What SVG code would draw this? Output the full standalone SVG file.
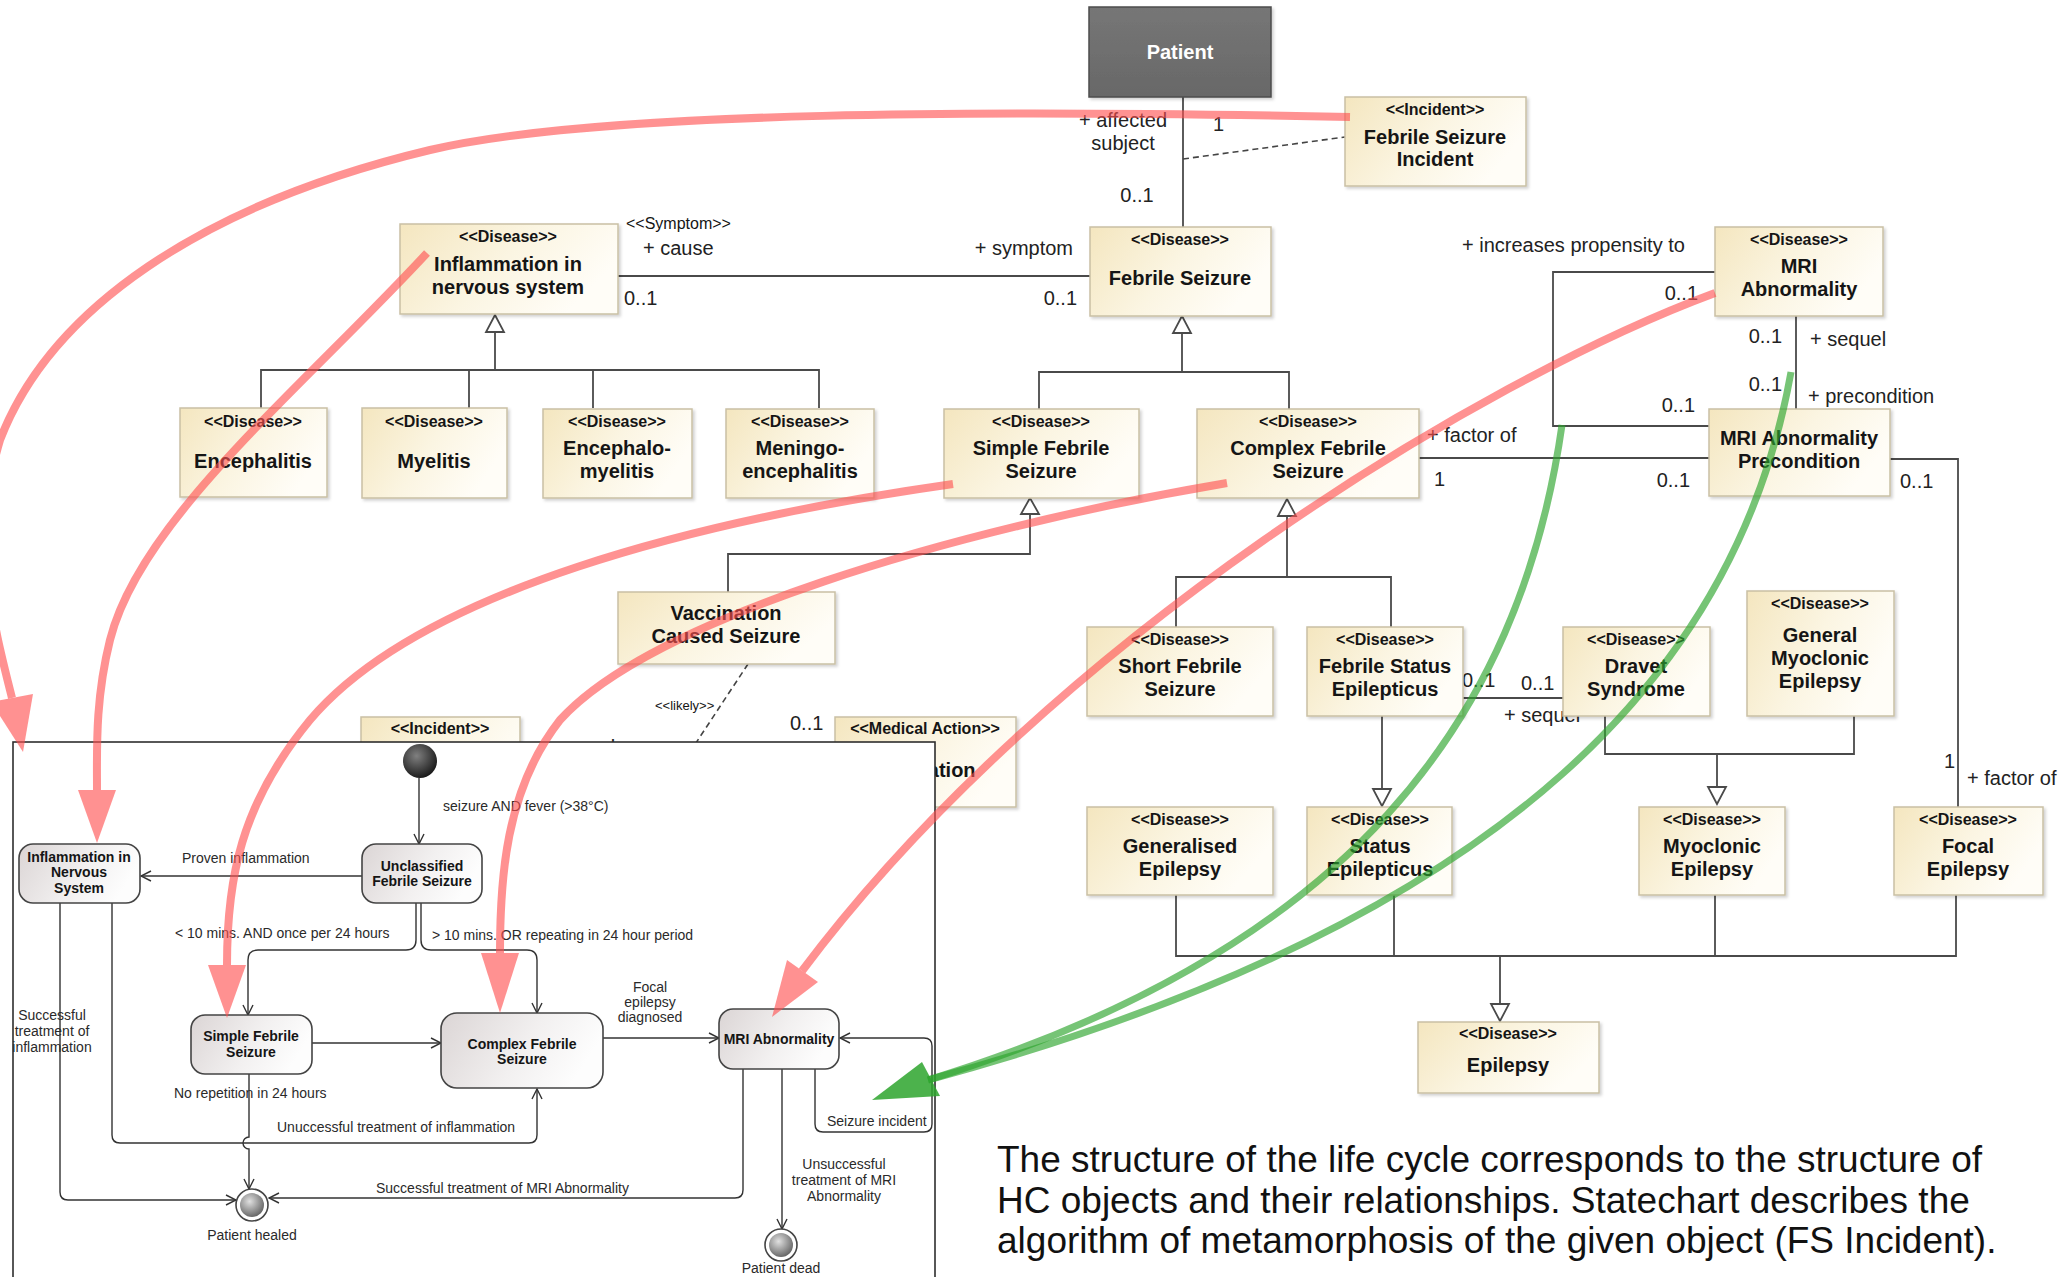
<svg xmlns="http://www.w3.org/2000/svg" width="2062" height="1277" viewBox="0 0 2062 1277">
<defs>
  <linearGradient id="beige" x1="0" y1="0" x2="1" y2="0.4">
    <stop offset="0" stop-color="#f4e6bf"/>
    <stop offset="0.55" stop-color="#fbf5e2"/>
    <stop offset="1" stop-color="#fffdf7"/>
  </linearGradient>
  <linearGradient id="stateFill" x1="0" y1="0" x2="1" y2="0.3">
    <stop offset="0" stop-color="#dbd5d5"/>
    <stop offset="0.6" stop-color="#f2f0f0"/>
    <stop offset="1" stop-color="#fdfdfd"/>
  </linearGradient>
  <linearGradient id="patientFill" x1="0" y1="0" x2="0" y2="1">
    <stop offset="0" stop-color="#767676"/>
    <stop offset="1" stop-color="#686868"/>
  </linearGradient>
  <radialGradient id="ball" cx="0.4" cy="0.35" r="0.7">
    <stop offset="0" stop-color="#808080"/>
    <stop offset="1" stop-color="#151515"/>
  </radialGradient>
  <radialGradient id="endBall" cx="0.4" cy="0.35" r="0.7">
    <stop offset="0" stop-color="#e0e0e0"/>
    <stop offset="1" stop-color="#606060"/>
  </radialGradient>
  <filter id="shadow" x="-5%" y="-5%" width="115%" height="120%">
    <feDropShadow dx="2" dy="2" stdDeviation="1.5" flood-color="#000" flood-opacity="0.18"/>
  </filter>
  <marker id="open" viewBox="0 0 12 12" refX="11" refY="6" markerWidth="12" markerHeight="12" markerUnits="userSpaceOnUse" orient="auto">
    <path d="M1,1 L11,6 L1,11" fill="none" stroke="#333" stroke-width="1.4"/>
  </marker>
  <style>
    text { font-family: "Liberation Sans", Arial, sans-serif; fill: #151515; }
    .box { fill: url(#beige); stroke: #c9c0a4; stroke-width: 1.5; filter: url(#shadow); }
    .st { font-size: 16px; font-weight: bold; text-anchor: middle; }
    .nm { font-size: 20px; font-weight: bold; text-anchor: middle; }
    .lb { font-size: 20px; fill: #222; }
    .ln { fill: none; stroke: #4a4a4a; stroke-width: 1.8; }
    .dash { fill: none; stroke: #444; stroke-width: 1.6; stroke-dasharray: 6 4; }
    .tri { fill: #fff; stroke: #4a4a4a; stroke-width: 1.8; }
    .state { fill: url(#stateFill); stroke: #444; stroke-width: 1.6; }
    .sn { font-size: 14px; font-weight: bold; text-anchor: middle; }
    .sl { font-size: 14px; fill: #2a2a2a; }
    .tr { fill: none; stroke: #333; stroke-width: 1.4; marker-end: url(#open); }
    .redline { fill: none; stroke: #ff4f4f; stroke-width: 8; }
    .redhead { fill: #ff4f4f; }
    .greenline { fill: none; stroke: #2da52d; stroke-width: 7; }
    .greenhead { fill: #2da52d; }
    .caption { font-size: 37px; fill: #111; }
  </style>
</defs>

<rect width="2062" height="1277" fill="#ffffff"/>

<!-- class diagram connectors -->
<g id="class-connectors">
  <!-- Patient / Febrile Seizure association with incident class -->
  <line class="ln" x1="1183" y1="97" x2="1183" y2="227"/>
  <line class="dash" x1="1183" y1="159" x2="1345" y2="137"/>
  <!-- cause / symptom -->
  <line class="ln" x1="618" y1="276" x2="1090" y2="276"/>
  <!-- inflammation hierarchy -->
  <polyline class="ln" points="495,332 495,370"/>
  <polyline class="ln" points="261,408 261,370 819,370 819,408"/>
  <line class="ln" x1="469" y1="370" x2="469" y2="408"/>
  <line class="ln" x1="593" y1="370" x2="593" y2="408"/>
  <polygon class="tri" points="495,315 486,332 504,332"/>
  <!-- febrile seizure hierarchy -->
  <line class="ln" x1="1182" y1="333" x2="1182" y2="372"/>
  <polyline class="ln" points="1039,409 1039,372 1289,372 1289,409"/>
  <polygon class="tri" points="1182,316 1173,333 1191,333"/>
  <!-- simple febrile -> vaccination -->
  <polyline class="ln" points="1030,514 1030,554 728,554 728,592"/>
  <polygon class="tri" points="1030,498 1021,514 1039,514"/>
  <!-- complex febrile hierarchy -->
  <line class="ln" x1="1287" y1="516" x2="1287" y2="577"/>
  <polyline class="ln" points="1176,627 1176,577 1391,577 1391,627"/>
  <polygon class="tri" points="1287,499 1278,516 1296,516"/>
  <!-- MRI abnormality links -->
  <polyline class="ln" points="1715,272 1553,272 1553,426 1709,426"/>
  <line class="ln" x1="1796" y1="316" x2="1796" y2="409"/>
  <line class="ln" x1="1419" y1="458" x2="1709" y2="458"/>
  <polyline class="ln" points="1890,459 1958,459 1958,807"/>
  <!-- status epilepticus sequel -->
  <line class="ln" x1="1463" y1="698" x2="1563" y2="698"/>
  <line class="ln" x1="1382" y1="716" x2="1382" y2="789"/>
  <polygon class="tri" points="1382,806 1373,789 1391,789"/>
  <!-- myoclonic -->
  <polyline class="ln" points="1605,716 1605,754 1854,754 1854,716"/>
  <line class="ln" x1="1717" y1="754" x2="1717" y2="787"/>
  <polygon class="tri" points="1717,804 1708,787 1726,787"/>
  <!-- epilepsy -->
  <polyline class="ln" points="1176,895 1176,956 1956,956 1956,895"/>
  <line class="ln" x1="1394" y1="895" x2="1394" y2="956"/>
  <line class="ln" x1="1715" y1="895" x2="1715" y2="956"/>
  <line class="ln" x1="1500" y1="956" x2="1500" y2="1004"/>
  <polygon class="tri" points="1500,1021 1491,1004 1509,1004"/>
  <!-- likely dependency -->
  <line class="dash" x1="748" y1="664" x2="690" y2="752"/>

  <!-- association end labels -->
  <text class="lb" x="1123" y="127" text-anchor="middle">+ affected</text>
  <text class="lb" x="1123" y="150" text-anchor="middle">subject</text>
  <text class="lb" x="1213" y="131">1</text>
  <text class="lb" x="1137" y="202" text-anchor="middle">0..1</text>
  <text x="626" y="229" style="font-size:16px">&lt;&lt;Symptom&gt;&gt;</text>
  <text class="lb" x="643" y="255">+ cause</text>
  <text class="lb" x="624" y="305">0..1</text>
  <text class="lb" x="1073" y="255" text-anchor="end">+ symptom</text>
  <text class="lb" x="1077" y="305" text-anchor="end">0..1</text>
  <text class="lb" x="1462" y="252">+ increases propensity to</text>
  <text class="lb" x="1698" y="300" text-anchor="end">0..1</text>
  <text class="lb" x="1782" y="343" text-anchor="end">0..1</text>
  <text class="lb" x="1810" y="346">+ sequel</text>
  <text class="lb" x="1782" y="391" text-anchor="end">0..1</text>
  <text class="lb" x="1808" y="403">+ precondition</text>
  <text class="lb" x="1695" y="412" text-anchor="end">0..1</text>
  <text class="lb" x="1427" y="442">+ factor of</text>
  <text class="lb" x="1434" y="486">1</text>
  <text class="lb" x="1690" y="487" text-anchor="end">0..1</text>
  <text class="lb" x="1900" y="488">0..1</text>
  <text class="lb" x="1462" y="687">0..1</text>
  <text class="lb" x="1521" y="690">0..1</text>
  <text class="lb" x="1504" y="722">+ sequel</text>
  <text class="lb" x="1944" y="768">1</text>
  <text class="lb" x="1967" y="785">+ factor of</text>
  <text x="655" y="710" style="font-size:13px">&lt;&lt;likely&gt;&gt;</text>
  <text class="lb" x="790" y="730">0..1</text>
  <text class="lb" x="539" y="754">+ sequel</text>
</g>

<!-- class nodes -->
<g id="patient">
  <rect x="1089" y="7" width="182" height="90" fill="url(#patientFill)" stroke="#4d4d4d" stroke-width="1.5" filter="url(#shadow)"/>
  <text x="1180" y="59" text-anchor="middle" style="font-size:20px;font-weight:bold;fill:#fff">Patient</text>
</g>
<g id="fs-incident">
  <rect class="box" x="1345" y="97" width="181" height="89"/>
  <text class="st" x="1435" y="115">&lt;&lt;Incident&gt;&gt;</text>
  <text class="nm" x="1435" y="144">Febrile Seizure</text>
  <text class="nm" x="1435" y="166">Incident</text>
</g>
<g id="febrile-seizure">
  <rect class="box" x="1090" y="227" width="181" height="89"/>
  <text class="st" x="1180" y="245">&lt;&lt;Disease&gt;&gt;</text>
  <text class="nm" x="1180" y="285">Febrile Seizure</text>
</g>
<g id="inflammation">
  <rect class="box" x="400" y="224" width="218" height="90"/>
  <text class="st" x="508" y="242">&lt;&lt;Disease&gt;&gt;</text>
  <text class="nm" x="508" y="271">Inflammation in</text>
  <text class="nm" x="508" y="294">nervous system</text>
</g>
<g id="mri-abnormality">
  <rect class="box" x="1715" y="227" width="168" height="89"/>
  <text class="st" x="1799" y="245">&lt;&lt;Disease&gt;&gt;</text>
  <text class="nm" x="1799" y="273">MRI</text>
  <text class="nm" x="1799" y="296">Abnormality</text>
</g>
<g id="encephalitis">
  <rect class="box" x="180" y="408" width="147" height="89"/>
  <text class="st" x="253" y="427">&lt;&lt;Disease&gt;&gt;</text>
  <text class="nm" x="253" y="468">Encephalitis</text>
</g>
<g id="myelitis">
  <rect class="box" x="362" y="408" width="145" height="90"/>
  <text class="st" x="434" y="427">&lt;&lt;Disease&gt;&gt;</text>
  <text class="nm" x="434" y="468">Myelitis</text>
</g>
<g id="encephalomyelitis">
  <rect class="box" x="543" y="409" width="149" height="89"/>
  <text class="st" x="617" y="427">&lt;&lt;Disease&gt;&gt;</text>
  <text class="nm" x="617" y="455">Encephalo-</text>
  <text class="nm" x="617" y="478">myelitis</text>
</g>
<g id="meningoencephalitis">
  <rect class="box" x="726" y="409" width="148" height="89"/>
  <text class="st" x="800" y="427">&lt;&lt;Disease&gt;&gt;</text>
  <text class="nm" x="800" y="455">Meningo-</text>
  <text class="nm" x="800" y="478">encephalitis</text>
</g>
<g id="simple-febrile">
  <rect class="box" x="944" y="409" width="195" height="89"/>
  <text class="st" x="1041" y="427">&lt;&lt;Disease&gt;&gt;</text>
  <text class="nm" x="1041" y="455">Simple Febrile</text>
  <text class="nm" x="1041" y="478">Seizure</text>
</g>
<g id="complex-febrile">
  <rect class="box" x="1197" y="409" width="222" height="89"/>
  <text class="st" x="1308" y="427">&lt;&lt;Disease&gt;&gt;</text>
  <text class="nm" x="1308" y="455">Complex Febrile</text>
  <text class="nm" x="1308" y="478">Seizure</text>
</g>
<g id="mri-precondition">
  <rect class="box" x="1709" y="409" width="181" height="87"/>
  <text class="nm" x="1799" y="445">MRI Abnormality</text>
  <text class="nm" x="1799" y="468">Precondition</text>
</g>
<g id="vaccination-seizure">
  <rect class="box" x="618" y="592" width="217" height="72"/>
  <text class="nm" x="726" y="620">Vaccination</text>
  <text class="nm" x="726" y="643">Caused Seizure</text>
</g>
<g id="short-febrile">
  <rect class="box" x="1087" y="627" width="186" height="89"/>
  <text class="st" x="1180" y="645">&lt;&lt;Disease&gt;&gt;</text>
  <text class="nm" x="1180" y="673">Short Febrile</text>
  <text class="nm" x="1180" y="696">Seizure</text>
</g>
<g id="febrile-status">
  <rect class="box" x="1307" y="627" width="156" height="89"/>
  <text class="st" x="1385" y="645">&lt;&lt;Disease&gt;&gt;</text>
  <text class="nm" x="1385" y="673">Febrile Status</text>
  <text class="nm" x="1385" y="696">Epilepticus</text>
</g>
<g id="dravet">
  <rect class="box" x="1563" y="627" width="147" height="89"/>
  <text class="st" x="1636" y="645">&lt;&lt;Disease&gt;&gt;</text>
  <text class="nm" x="1636" y="673">Dravet</text>
  <text class="nm" x="1636" y="696">Syndrome</text>
</g>
<g id="general-myoclonic">
  <rect class="box" x="1747" y="591" width="147" height="125"/>
  <text class="st" x="1820" y="609">&lt;&lt;Disease&gt;&gt;</text>
  <text class="nm" x="1820" y="642">General</text>
  <text class="nm" x="1820" y="665">Myoclonic</text>
  <text class="nm" x="1820" y="688">Epilepsy</text>
</g>
<g id="generalised-epilepsy">
  <rect class="box" x="1087" y="807" width="186" height="88"/>
  <text class="st" x="1180" y="825">&lt;&lt;Disease&gt;&gt;</text>
  <text class="nm" x="1180" y="853">Generalised</text>
  <text class="nm" x="1180" y="876">Epilepsy</text>
</g>
<g id="status-epilepticus">
  <rect class="box" x="1307" y="807" width="145" height="88"/>
  <text class="st" x="1380" y="825">&lt;&lt;Disease&gt;&gt;</text>
  <text class="nm" x="1380" y="853">Status</text>
  <text class="nm" x="1380" y="876">Epilepticus</text>
</g>
<g id="myoclonic-epilepsy">
  <rect class="box" x="1639" y="807" width="146" height="88"/>
  <text class="st" x="1712" y="825">&lt;&lt;Disease&gt;&gt;</text>
  <text class="nm" x="1712" y="853">Myoclonic</text>
  <text class="nm" x="1712" y="876">Epilepsy</text>
</g>
<g id="focal-epilepsy">
  <rect class="box" x="1894" y="807" width="149" height="88"/>
  <text class="st" x="1968" y="825">&lt;&lt;Disease&gt;&gt;</text>
  <text class="nm" x="1968" y="853">Focal</text>
  <text class="nm" x="1968" y="876">Epilepsy</text>
</g>
<g id="epilepsy">
  <rect class="box" x="1418" y="1022" width="181" height="71"/>
  <text class="st" x="1508" y="1039">&lt;&lt;Disease&gt;&gt;</text>
  <text class="nm" x="1508" y="1072">Epilepsy</text>
</g>
<g id="incident">
  <rect class="box" x="361" y="717" width="159" height="90"/>
  <text class="st" x="440" y="734">&lt;&lt;Incident&gt;&gt;</text>
</g>
<g id="medical-action">
  <rect class="box" x="835" y="717" width="181" height="90"/>
  <text class="st" x="925" y="734">&lt;&lt;Medical Action&gt;&gt;</text>
  <text class="nm" x="920" y="777">Vaccination</text>
</g>

<!-- statechart panel -->
<g id="statechart">
  <rect x="13" y="742" width="922" height="560" fill="#ffffff" stroke="#2e2e2e" stroke-width="1.6"/>

  <g id="sc-transitions">
    <line class="tr" x1="419" y1="778" x2="419" y2="844"/>
    <line class="tr" x1="362" y1="876" x2="141" y2="876"/>
    <path class="tr" d="M416,903 V940 Q416,950 406,950 H258 Q248,950 248,960 V1015"/>
    <path class="tr" d="M421,903 V940 Q421,950 431,950 H527 Q537,950 537,960 V1013"/>
    <line class="tr" x1="312" y1="1043" x2="441" y2="1043"/>
    <line class="tr" x1="603" y1="1038" x2="719" y2="1038"/>
    <path class="tr" d="M815,1069 V1124 Q815,1132 823,1132 H924 Q932,1132 932,1124 V1046 Q932,1038 924,1038 H840"/>
    <line class="tr" x1="782" y1="1069" x2="782" y2="1229"/>
    <path class="tr" d="M743,1069 V1190 Q743,1198 735,1198 H269"/>
    <path class="tr" d="M249,1074 V1137 A6,6 0 0 0 249,1149 V1189"/>
    <path class="tr" d="M60,903 V1192 Q60,1200 68,1200 H236"/>
    <path class="tr" d="M112,903 V1135 Q112,1143 120,1143 H529 Q537,1143 537,1135 V1089"/>
  </g>

  <text class="sl" x="443" y="811">seizure AND fever (&gt;38°C)</text>
  <text class="sl" x="182" y="863">Proven inflammation</text>
  <text class="sl" x="175" y="938">&lt; 10 mins. AND once per 24 hours</text>
  <text class="sl" x="432" y="940">&gt; 10 mins. OR repeating in 24 hour period</text>
  <text class="sl" x="650" y="992" text-anchor="middle">Focal</text>
  <text class="sl" x="650" y="1007" text-anchor="middle">epilepsy</text>
  <text class="sl" x="650" y="1022" text-anchor="middle">diagnosed</text>
  <text class="sl" x="52" y="1020" text-anchor="middle">Successful</text>
  <text class="sl" x="52" y="1036" text-anchor="middle">treatment of</text>
  <text class="sl" x="52" y="1052" text-anchor="middle">inflammation</text>
  <text class="sl" x="174" y="1098">No repetition in 24 hours</text>
  <text class="sl" x="277" y="1132">Unuccessful treatment of inflammation</text>
  <text class="sl" x="827" y="1126">Seizure incident</text>
  <text class="sl" x="376" y="1193">Successful treatment of MRI Abnormality</text>
  <text class="sl" x="844" y="1169" text-anchor="middle">Unsuccessful</text>
  <text class="sl" x="844" y="1185" text-anchor="middle">treatment of MRI</text>
  <text class="sl" x="844" y="1201" text-anchor="middle">Abnormality</text>

  <g id="sc-initial">
    <circle cx="420" cy="761" r="17" fill="url(#ball)"/>
  </g>
  <g id="sc-unclassified">
    <rect class="state" x="362" y="844" width="120" height="59" rx="14"/>
    <text class="sn" x="422" y="871">Unclassified</text>
    <text class="sn" x="422" y="886">Febrile Seizure</text>
  </g>
  <g id="sc-inflammation">
    <rect class="state" x="19" y="844" width="121" height="59" rx="14"/>
    <text class="sn" x="79" y="862">Inflammation in</text>
    <text class="sn" x="79" y="877">Nervous</text>
    <text class="sn" x="79" y="893">System</text>
  </g>
  <g id="sc-simple">
    <rect class="state" x="191" y="1015" width="121" height="59" rx="14"/>
    <text class="sn" x="251" y="1041">Simple Febrile</text>
    <text class="sn" x="251" y="1057">Seizure</text>
  </g>
  <g id="sc-complex">
    <rect class="state" x="441" y="1013" width="162" height="75" rx="16"/>
    <text class="sn" x="522" y="1049">Complex Febrile</text>
    <text class="sn" x="522" y="1064">Seizure</text>
  </g>
  <g id="sc-mri">
    <rect class="state" x="719" y="1009" width="120" height="60" rx="14"/>
    <text class="sn" x="779" y="1044">MRI Abnormality</text>
  </g>
  <g id="sc-healed">
    <circle cx="252" cy="1205" r="16" fill="#fff" stroke="#444" stroke-width="1.6"/>
    <circle cx="252" cy="1205" r="12" fill="url(#endBall)"/>
    <text class="sl" x="252" y="1240" text-anchor="middle">Patient healed</text>
  </g>
  <g id="sc-dead">
    <circle cx="781" cy="1245" r="16" fill="#fff" stroke="#444" stroke-width="1.6"/>
    <circle cx="781" cy="1245" r="12" fill="url(#endBall)"/>
    <text class="sl" x="781" y="1273" text-anchor="middle">Patient dead</text>
  </g>
</g>

<!-- caption -->
<g id="caption">
  <text class="caption" x="997" y="1172">The structure of the life cycle corresponds to the structure of</text>
  <text class="caption" x="997" y="1213">HC objects and their relationships. Statechart describes the</text>
  <text class="caption" x="997" y="1253">algorithm of metamorphosis of the given object (FS Incident).</text>
</g>

<!-- highlighted correspondences between classes and states -->
<g id="mapping-arrows">
  <g opacity="0.62">
    <path class="redline" d="M1350,117 C1000,110 600,110 430,150 C200,205 50,310 0,440 C-30,540 -5,630 12,698"/>
    <polygon class="redhead" points="23,752 33,694 -9,702"/>
  </g>
  <g opacity="0.62">
    <path class="redline" d="M427,253 C300,390 140,520 110,640 C95,700 97,750 97,790"/>
    <polygon class="redhead" points="97,843 78,790 116,790"/>
  </g>
  <g opacity="0.62">
    <path class="redline" d="M953,484 C700,520 420,590 310,720 C240,805 227,880 227,965"/>
    <polygon class="redhead" points="227,1018 208,965 246,965"/>
  </g>
  <g opacity="0.62">
    <path class="redline" d="M1227,483 C950,530 650,620 560,720 C505,790 500,880 500,953"/>
    <polygon class="redhead" points="500,1013 481,953 519,953"/>
  </g>
  <g opacity="0.62">
    <path class="redline" d="M1715,293 C1480,380 1050,640 802,971"/>
    <polygon class="redhead" points="772,1017 787,960 818,982"/>
  </g>
  <g opacity="0.65">
    <path class="greenline" d="M1562,425 C1520,720 1350,950 928,1080"/>
  </g>
  <g opacity="0.65">
    <path class="greenline" d="M1791,372 C1740,660 1520,920 928,1080"/>
  </g>
  <polygon class="greenhead" opacity="0.85" points="872,1100 922,1062 940,1096"/>
</g>
</svg>
